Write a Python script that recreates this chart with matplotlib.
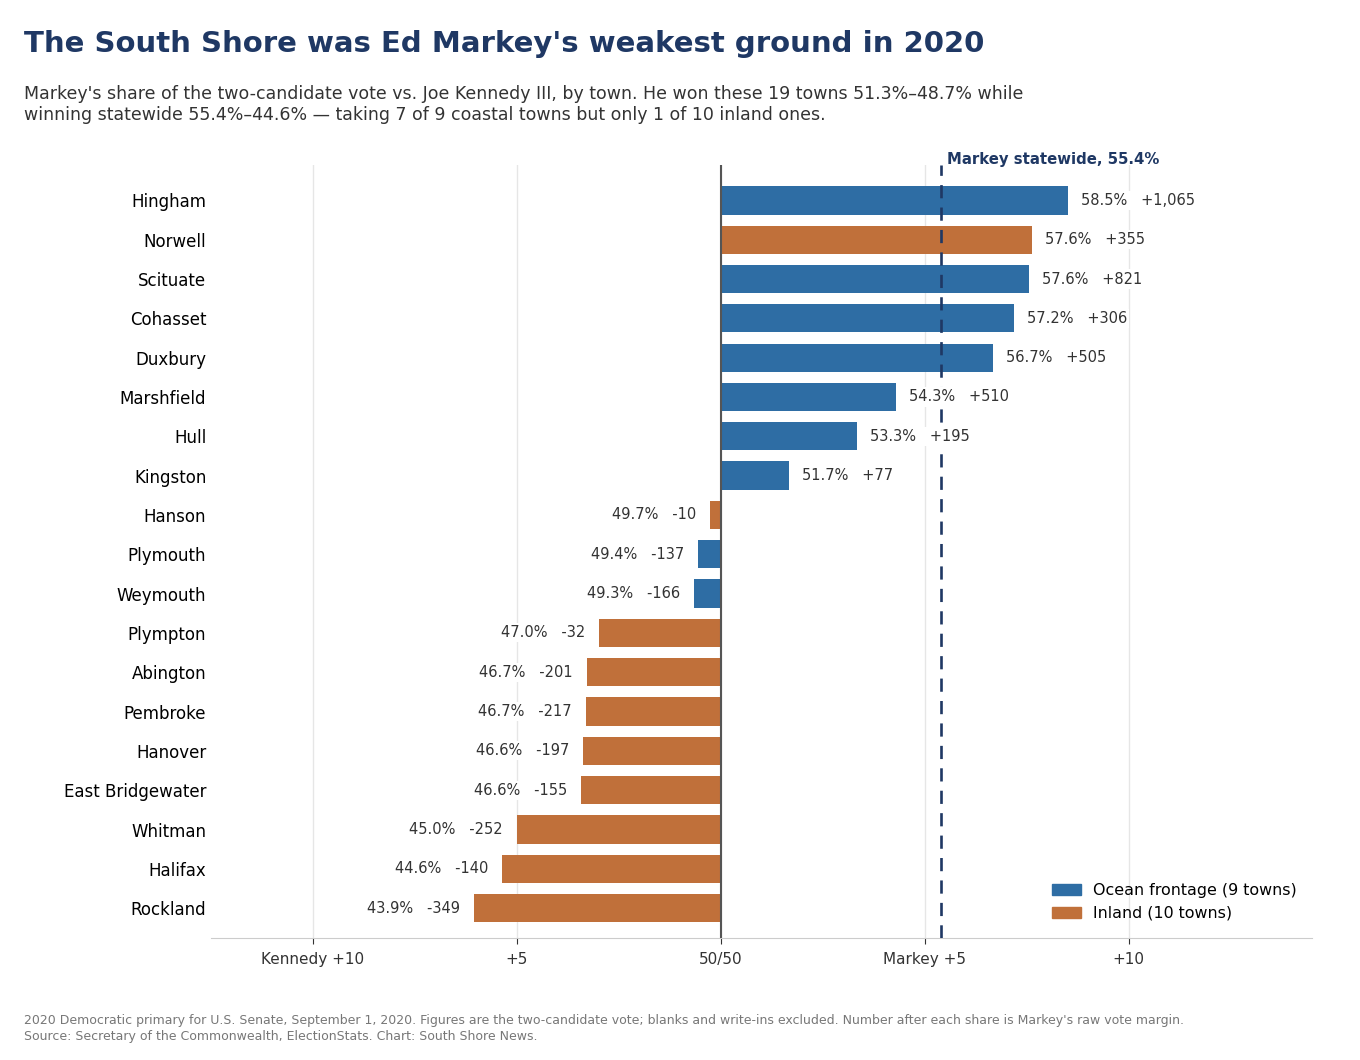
import matplotlib
matplotlib.use("Agg")
import matplotlib.pyplot as plt
from matplotlib.patches import Patch
from matplotlib.transforms import offset_copy

towns = ["Hingham", "Norwell", "Scituate", "Cohasset", "Duxbury", "Marshfield", "Hull",
         "Kingston", "Hanson", "Plymouth", "Weymouth", "Plympton", "Abington", "Pembroke",
         "Hanover", "East Bridgewater", "Whitman", "Halifax", "Rockland"]
share = [58.50, 57.63, 57.56, 57.19, 56.68, 54.29, 53.34, 51.68, 49.74, 49.44, 49.34,
         47.02, 46.72, 46.69, 46.63, 46.58, 45.00, 44.64, 43.94]
margin = ["+1,065", "+355", "+821", "+306", "+505", "+510", "+195", "+77", "-10", "-137",
          "-166", "-32", "-201", "-217", "-197", "-155", "-252", "-140", "-349"]
coastal = [True, False, True, True, True, True, True, True, False, True, True,
           False, False, False, False, False, False, False, False]
statewide = 55.4
tick_vals = [-10, -5, 0, 5, 10]
tick_labels = ["Kennedy +10", "+5", "50/50", "Markey +5", "+10"]

BLUE = "#2e6da4"
ORANGE = "#c0703a"
NAVY = "#1f3864"

fig = plt.figure(figsize=(13.6, 10.6), dpi=100)
ax = fig.add_axes([0.155, 0.115, 0.81, 0.729])

ys = list(range(len(towns)))
xs = [s - 50 for s in share]
colors = [BLUE if c else ORANGE for c in coastal]
ax.barh(ys, xs, height=0.72, color=colors, zorder=2)

ax.set_xlim(-12.5, 14.5)
ax.set_ylim(len(towns) - 1 + 0.76, -0.89)
ax.set_yticks(ys)
ax.set_yticklabels(towns, fontsize=12, color="black")
ax.tick_params(axis="y", length=0, pad=3.2)
ax.set_xticks(tick_vals)
ax.set_xticklabels(tick_labels, fontsize=11, color="#333333")
ax.tick_params(axis="x", length=4, color="#333333", pad=6)
ax.grid(axis="x", color="#e6e6e6", linewidth=1, zorder=0)
for s in ["top", "right", "left"]:
    ax.spines[s].set_visible(False)
ax.spines["bottom"].set_color("#cccccc")

ax.axvline(0, color="#555555", linewidth=1.5, zorder=3)
ax.axvline(statewide - 50, color=NAVY, linewidth=1.9, linestyle=(0, (5, 3.5)), zorder=3)
ax.text(statewide - 50 + 0.15, -0.86, f"Markey statewide, {statewide}%", fontsize=10.7,
        fontweight="bold", color=NAVY, ha="left", va="bottom")

for y, x, s, m in zip(ys, xs, share, margin):
    lab = f"{s:.1f}%   {m}"
    box = dict(facecolor="white", edgecolor="none", pad=1.5)
    if x >= 0:
        tr = offset_copy(ax.transData, fig=fig, x=13, y=0, units="dots")
        ax.text(x, y, lab, transform=tr, ha="left", va="center", fontsize=10.5,
                color="#333333", bbox=box, zorder=5)
    else:
        tr = offset_copy(ax.transData, fig=fig, x=-14, y=0, units="dots")
        ax.text(x, y, lab, transform=tr, ha="right", va="center", fontsize=10.5,
                color="#333333", bbox=box, zorder=5)

handles = [Patch(color=BLUE, label="Ocean frontage (9 towns)"),
           Patch(color=ORANGE, label="Inland (10 towns)")]
ax.legend(handles=handles, loc="lower right", frameon=False, fontsize=11.4,
          bbox_to_anchor=(0.999, 0.004), handlelength=1.8)

fig.text(24 / 1360, 1 - 44 / 1060, "The South Shore was Ed Markey's weakest ground in 2020",
         fontsize=21, fontweight="bold", color=NAVY, ha="left", va="center")
fig.text(24 / 1360, 1 - 85 / 1060,
         "Markey's share of the two-candidate vote vs. Joe Kennedy III, by town. He won these 19 towns 51.3%\u201348.7% while\n"
         "winning statewide 55.4%\u201344.6% \u2014 taking 7 of 9 coastal towns but only 1 of 10 inland ones.",
         fontsize=12.5, color="#333333", ha="left", va="top", linespacing=1.25)
fig.text(24 / 1360, 1 - 1014 / 1060,
         "2020 Democratic primary for U.S. Senate, September 1, 2020. Figures are the two-candidate vote; blanks and write-ins excluded. Number after each share is Markey's raw vote margin.\n"
         "Source: Secretary of the Commonwealth, ElectionStats. Chart: South Shore News.",
         fontsize=9, color="#777777", ha="left", va="top", linespacing=1.3)

fig.savefig("out.png", dpi=100)
